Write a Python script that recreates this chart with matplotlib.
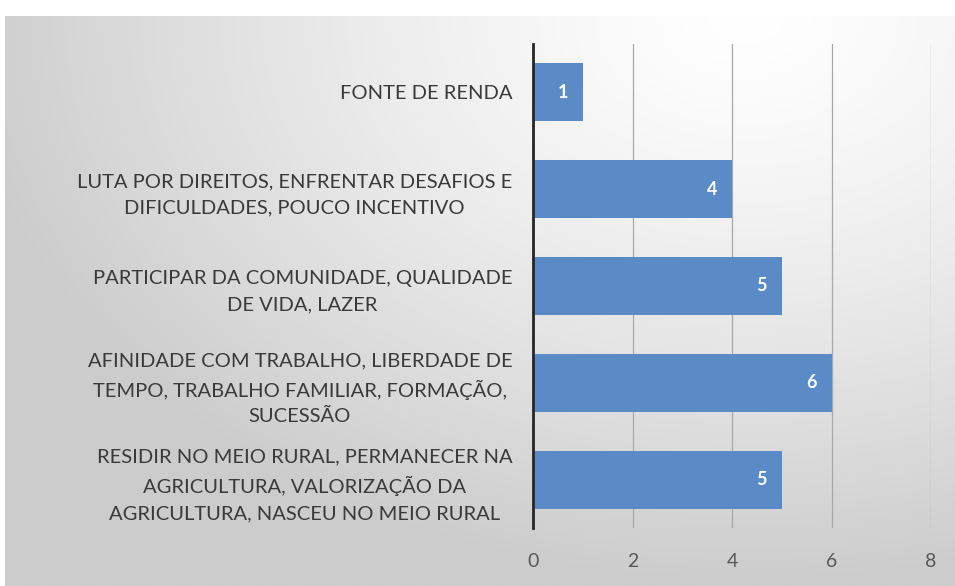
import numpy as np
import matplotlib
matplotlib.use("Agg")
import matplotlib.pyplot as plt

categories = [
    "RESIDIR NO MEIO RURAL, PERMANECER NA\nAGRICULTURA, VALORIZAÇÃO DA\nAGRICULTURA, NASCEU NO MEIO RURAL",
    "AFINIDADE COM TRABALHO, LIBERDADE DE\nTEMPO, TRABALHO FAMILIAR, FORMAÇÃO,\nSUCESSÃO",
    "PARTICIPAR DA COMUNIDADE, QUALIDADE\nDE VIDA, LAZER",
    "LUTA POR DIREITOS, ENFRENTAR DESAFIOS E\nDIFICULDADES, POUCO INCENTIVO",
    "FONTE DE RENDA",
]
values = [5, 6, 5, 4, 1]
xticks = [0, 2, 4, 6, 8]

W, H = 955, 586
fig = plt.figure(figsize=(W / 100, H / 100), dpi=100)
fig.patch.set_facecolor("white")

# gradient background
bg = fig.add_axes([5 / W, 0, 1 - 5 / W, 1 - 16 / H])
bg.set_axis_off()
yy, xx = np.mgrid[0:1:300j, 0:1:500j]
cx, cy = 0.78, 0.0
d = np.sqrt(((xx - cx) * 1.2) ** 2 + ((yy - cy) * 1.0) ** 2)
d = np.clip(d / 1.0, 0, 1)
val = 1.0 - 0.20 * d ** 1.3
img = np.dstack([val, val, val])
bg.imshow(img, aspect="auto", extent=[0, 1, 0, 1], origin="upper")
bg.set_xlim(0, 1)
bg.set_ylim(0, 1)

x0, x1 = 533 / W, 931 / W
ytop, ybot = 44 / H, 528 / H
ax = fig.add_axes([x0, 1 - ybot, x1 - x0, ybot - ytop])
ax.patch.set_alpha(0)

ypos = np.arange(len(categories))
bars = ax.barh(ypos, values, height=0.6, color="#5B8BC6", zorder=3)
for b, v in zip(bars, values):
    ax.text(b.get_width() - 0.3, b.get_y() + b.get_height() / 2, str(v),
            ha="right", va="center", color="white", fontsize=13,
            fontweight="bold", family="Lato", zorder=4)

ax.set_xlim(0, 8)
ax.set_ylim(-0.5, len(categories) - 0.5)
ax.set_xticks(xticks)
ax.set_xticklabels([str(t) for t in xticks])
ax.set_yticks(ypos)
ax.set_yticklabels(categories, fontsize=14.5, color="#3a3a3a", family="Lato",
                   linespacing=1.62, ha="right", multialignment="center")
ax.tick_params(axis="y", length=0, pad=15)
ax.tick_params(axis="x", length=0, pad=18, labelsize=14, labelcolor="#595959")
for lbl in ax.get_xticklabels():
    lbl.set_family("Lato")
ax.grid(axis="x", color="#a8a8a8", linewidth=0.9, zorder=1)
for s in ["top", "right", "bottom"]:
    ax.spines[s].set_visible(False)
ax.spines["left"].set_color("#262626")
ax.spines["left"].set_linewidth(2)
ax.spines["left"].set_zorder(5)

fig.savefig("out.png", dpi=100)
